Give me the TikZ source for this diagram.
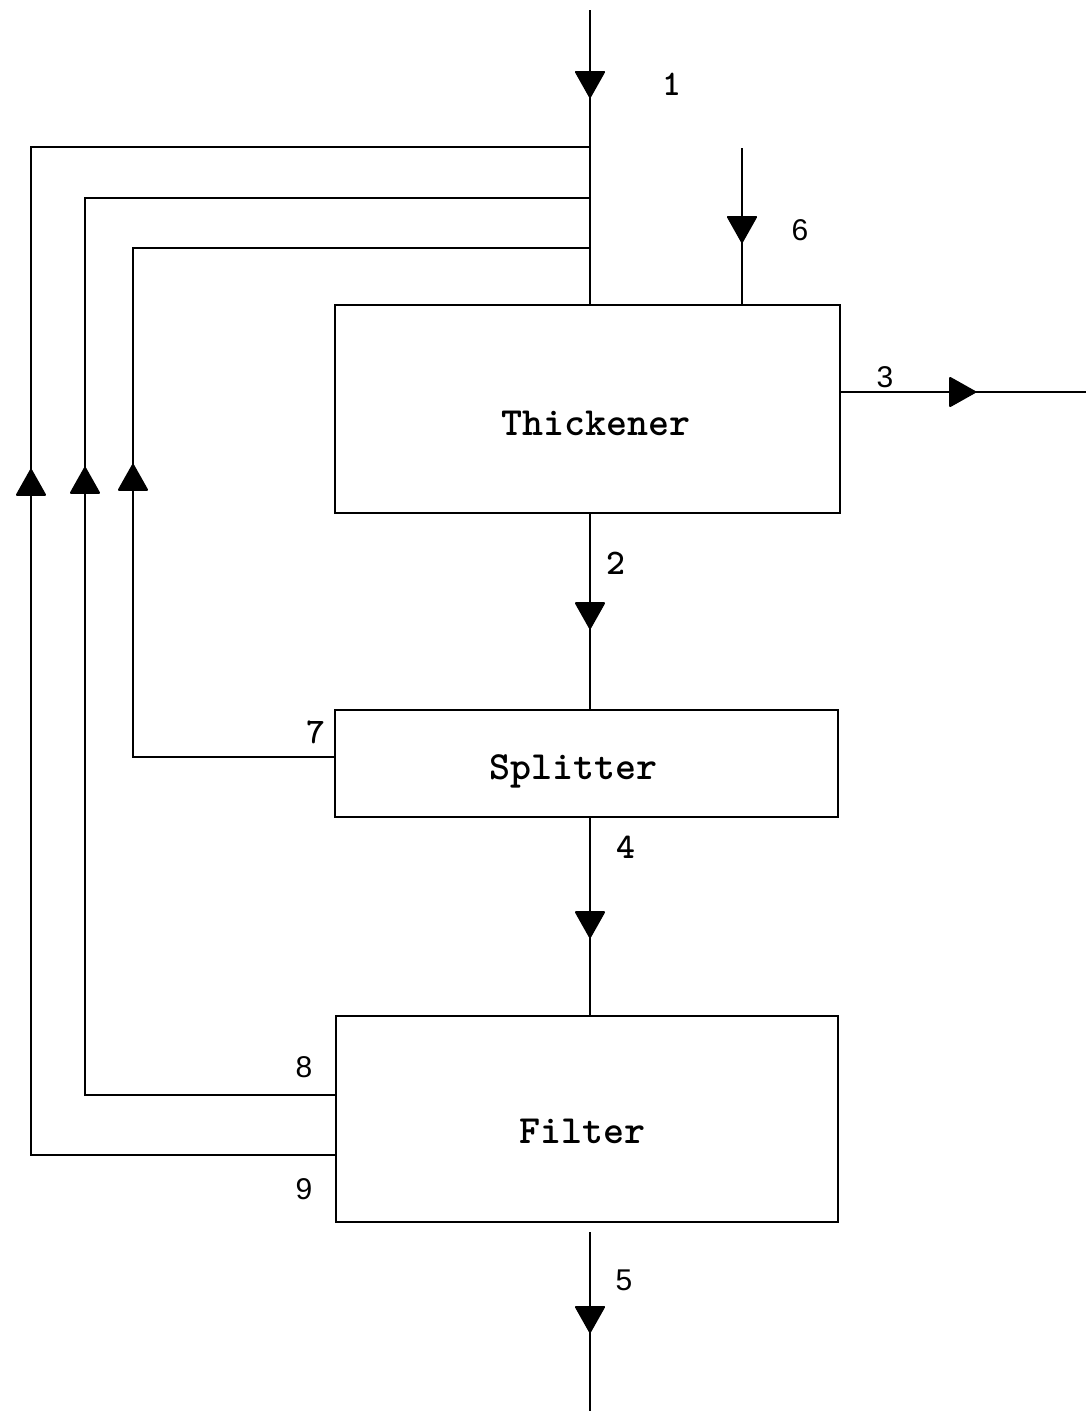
\documentclass[tikz,border=0pt]{standalone}
\usepackage{fontspec}
\newfontfamily\helv{Liberation Sans}
\usetikzlibrary{arrows.meta,decorations.markings}
\tikzset{
  Tri/.tip={Triangle[width=31pt,length=28pt,round]},
  unit/.style={draw, line width=2.4pt, inner sep=0pt},
  flow/.style={line width=1.9pt},
  arr/.style={postaction={decorate}, decoration={markings, mark=at position #1 with {\arrow{Tri}}}},
  boxtext/.style={font=\fontsize{40}{44}\selectfont\ttfamily\bfseries},
  numtt/.style={font=\fontsize{36}{40}\selectfont\ttfamily\bfseries},
  numsf/.style={font=\fontsize{30}{34}\selectfont\helv},
}
\begin{document}
\begin{tikzpicture}[x=1pt,y=-1pt]
\useasboundingbox (0,0) rectangle (1086,1411);
% units
\node[unit, minimum width=505pt, minimum height=208pt] (thk) at (587.5,409) {};
\node[unit, minimum width=503pt, minimum height=107pt] (spl) at (586.5,763.5) {};
\node[unit, minimum width=502pt, minimum height=206pt] (flt) at (587,1119) {};
\node[boxtext] (thkL) at (596,423) {Thickener};
\node[boxtext] (splL) at (573,771) {Splitter};
\node[boxtext] (fltL) at (582,1131) {Filter};
% free ends
\coordinate (in1) at (590,10);
\coordinate (in6) at (742,148);
\coordinate (out3) at (1086,392);
\coordinate (out5) at (590,1411);
\coordinate (s5) at (590,1232);
\coordinate (j9) at (590,147);
\coordinate (j8) at (590,198);
\coordinate (j7) at (590,248);
\coordinate (c9) at (31,1155);
\coordinate (c8) at (85,1095);
\coordinate (c7) at (133,757);
% streams
\draw[flow, arr=88pt] (in1) -- (in1 |- thk.north);
\draw[flow, arr=95pt] (in6) -- (in6 |- thk.north);
\draw[flow, arr=135pt] (thk.east |- out3) -- (out3);
\draw[flow, arr=115pt] (in1 |- thk.south) -- (in1 |- spl.north);
\draw[flow, arr=120pt] (in1 |- spl.south) -- (in1 |- flt.north);
\draw[flow, arr=101pt] (s5) -- (out5);
% recycles
\draw[flow, arr=494pt] (spl.west |- c7) -- (c7) -- (c7 |- j7) -- (j7);
\draw[flow, arr=878pt] (flt.west |- c8) -- (c8) -- (c8 |- j8) -- (j8);
\draw[flow, arr=990pt] (flt.west |- c9) -- (c9) -- (c9 |- j9) -- (j9);
% labels
\node[numtt] (l1) at (672,84) {1};
\node[numsf] (l6) at (800,230) {6};
\node[numsf] (l3) at (885,377) {3};
\node[numtt] (l2) at (616,563) {2};
\node[numtt] (l7) at (316,732) {7};
\node[numtt] (l4) at (626,847) {4};
\node[numsf] (l8) at (304,1067) {8};
\node[numsf] (l9) at (304,1189) {9};
\node[numsf] (l5) at (624,1280) {5};
\end{tikzpicture}
\end{document}
